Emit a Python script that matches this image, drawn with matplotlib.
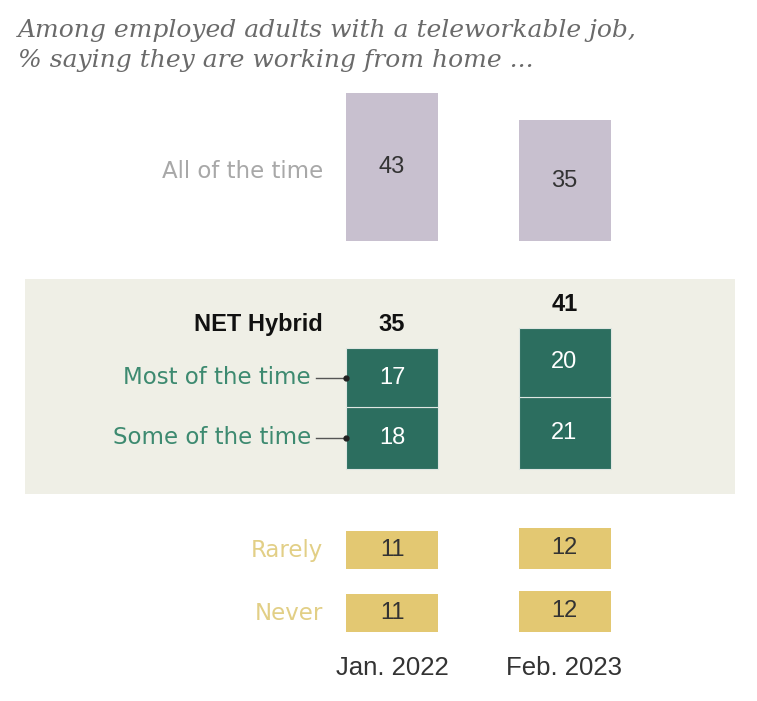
import matplotlib
matplotlib.use("Agg")
import matplotlib.pyplot as plt
from matplotlib.patches import Rectangle

# ---- data ----
periods = ["Jan. 2022", "Feb. 2023"]
all_time = [43, 35]
most_time = [17, 20]
some_time = [18, 21]
net_hybrid = [35, 41]
rarely = [11, 12]
never = [11, 12]
title_lines = ["Among employed adults with a teleworkable job,",
               "% saying they are working from home ..."]

# ---- layout ----
W, H = 757, 701
S = 3.45  # pixels per percentage point
fig = plt.figure(figsize=(W / 100, H / 100), dpi=100)
ax = fig.add_axes([0, 0, 1, 1])
ax.set_xlim(0, W)
ax.set_ylim(0, H / S)
ax.axis("off")

def Y(p):
    return (H - p) / S

xc = [392, 564.5]
bw = 92

PURPLE = "#c8c0cf"
GREEN = "#2c6e5f"
GOLD = "#e3c872"
BAND = "#efefe6"

# background band
ax.add_patch(Rectangle((25, Y(494)), 710, (494 - 279) / S, facecolor=BAND,
                       edgecolor="none", zorder=0))

lab_font = ["DejaVu Sans"]
num_font = ["Liberation Sans", "DejaVu Sans"]
lab_fs = 16.5
num_fs = 17

# title
for i, t in enumerate(title_lines):
    ax.text(18, Y(31 + 29 * i), t, family=["DejaVu Serif"],
            style="italic", fontsize=18, color="#6a6a6a", va="center", ha="left")

# all of the time
b_all = Y(241)
ax.bar(xc, all_time, width=bw, bottom=b_all, color=PURPLE, zorder=2)
for x, v in zip(xc, all_time):
    ax.text(x, b_all + v / 2, str(v), ha="center", va="center", fontsize=num_fs,
            family=num_font, color="#333333", zorder=3)
ax.text(323, Y(171), "All of the time", ha="right", va="center", fontsize=lab_fs,
        family=lab_font, color="#a8a8a8")

# hybrid
b_h = Y(469)
ax.bar(xc, some_time, width=bw, bottom=b_h, color=GREEN, edgecolor="#dfe6e2",
       linewidth=0.8, zorder=2)
ax.bar(xc, most_time, width=bw, bottom=[b_h + s for s in some_time], color=GREEN,
       edgecolor="#dfe6e2", linewidth=0.8, zorder=2)
for x, s, m, n in zip(xc, some_time, most_time, net_hybrid):
    ax.text(x, b_h + s / 2, str(s), ha="center", va="center", fontsize=num_fs,
            family=num_font, color="white", zorder=3)
    ax.text(x, b_h + s + m / 2, str(m), ha="center", va="center", fontsize=num_fs,
            family=num_font, color="white", zorder=3)
    ax.text(x, b_h + n + 12 / S, str(n), ha="center", va="bottom", fontsize=num_fs,
            family=num_font, weight="bold", color="#111111", zorder=3)
ax.text(323, b_h + net_hybrid[0] + 12 / S, "NET Hybrid", ha="right", va="bottom",
        fontsize=num_fs, family=num_font, weight="bold", color="#111111")

LABEL_GREEN = "#3d8a70"
left = xc[0] - bw / 2
for lab, yy in [("Most of the time", b_h + some_time[0] + most_time[0] / 2),
                ("Some of the time", b_h + some_time[0] / 2)]:
    ax.text(311, yy, lab, ha="right", va="center", fontsize=lab_fs, family=lab_font,
            color=LABEL_GREEN)
    ax.plot([316, left], [yy, yy], color="#555555", lw=1, zorder=3)
    ax.plot([left], [yy], marker="o", ms=3.5, color="#222222", zorder=4)

# rarely / never
LABEL_GOLD = "#e2cf86"
for lab, vals, base_p in [("Rarely", rarely, 569), ("Never", never, 632)]:
    b = Y(base_p)
    ax.bar(xc, vals, width=bw, bottom=b, color=GOLD, zorder=2)
    for x, v in zip(xc, vals):
        ax.text(x, b + v / 2, str(v), ha="center", va="center", fontsize=num_fs,
                family=num_font, color="#333333", zorder=3)
    ax.text(323, b + vals[0] / 2, lab, ha="right", va="center", fontsize=lab_fs,
            family=lab_font, color=LABEL_GOLD)

# period labels
for x, p in zip(xc, periods):
    ax.text(x, Y(668), p, ha="center", va="center", fontsize=18.5, family=num_font,
            color="#333333")

fig.savefig("out.png", dpi=100, facecolor="white")
